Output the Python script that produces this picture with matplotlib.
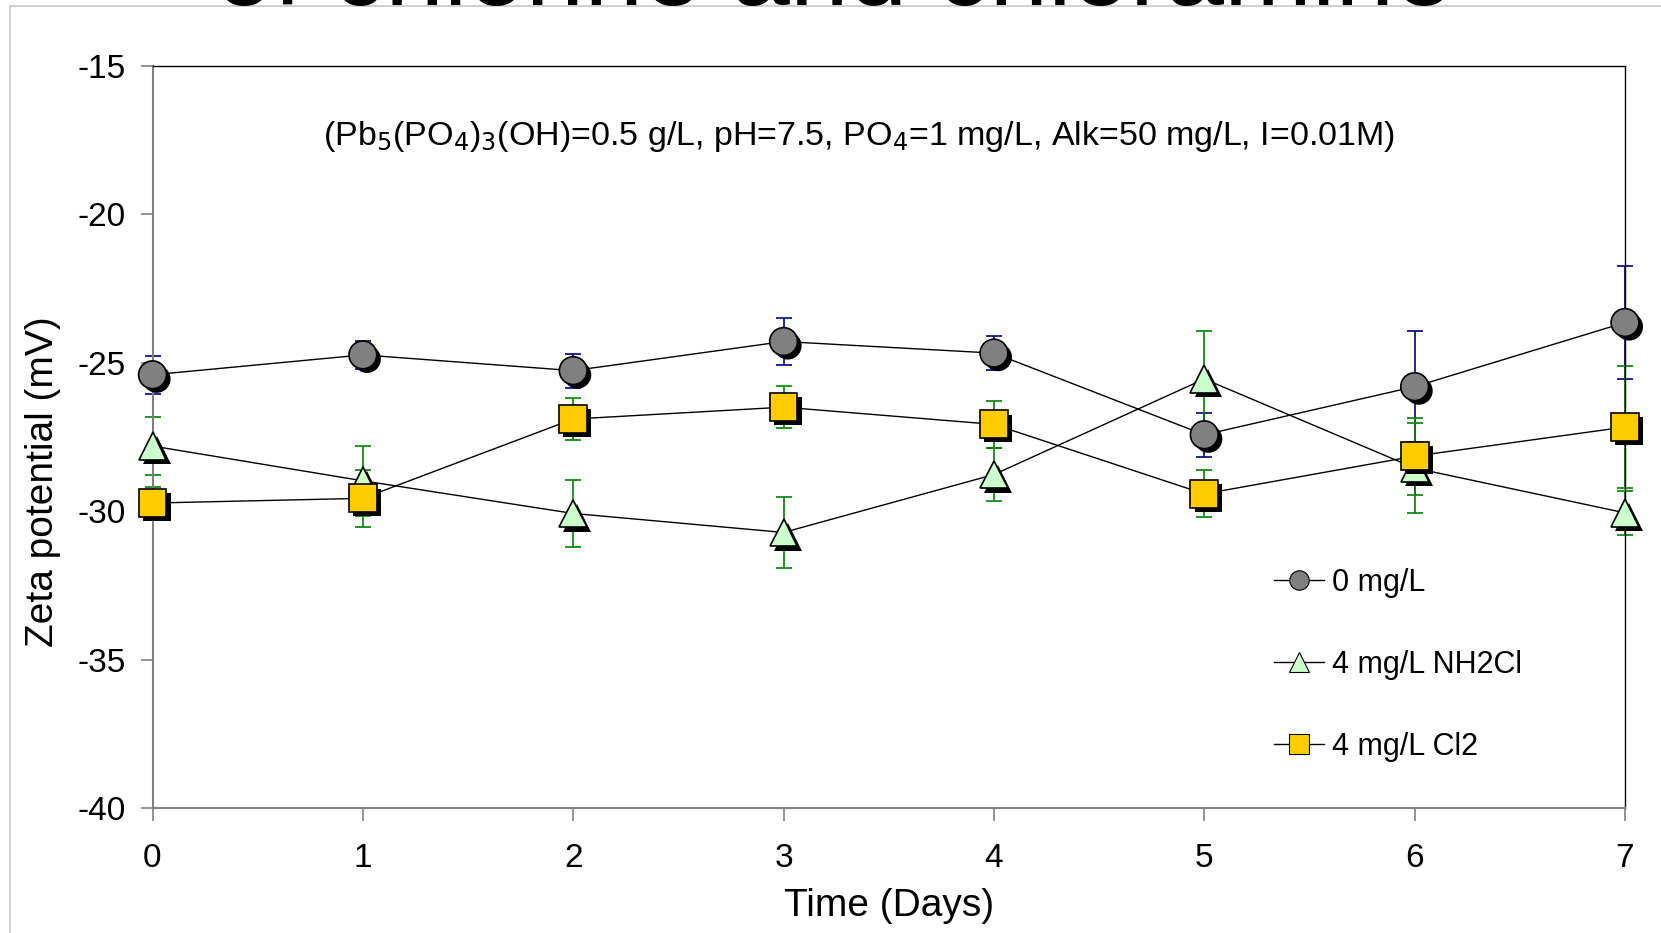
import matplotlib
matplotlib.use("Agg")
import matplotlib.pyplot as plt
import matplotlib.patheffects as pe
from matplotlib.lines import Line2D

plt.rcParams['font.family'] = ['Liberation Sans', 'DejaVu Sans']
plt.rcParams['axes.unicode_minus'] = False

# data
days = [0, 1, 2, 3, 4, 5, 6, 7]

zeta_0 = [-25.41, -24.74, -25.27, -24.29, -24.68, -27.43, -25.81, -23.65]
err_0 = [0.64, 0.48, 0.57, 0.80, 0.56, 0.75, 1.87, 1.90]

zeta_nh2cl = [-27.81, -28.98, -30.08, -30.72, -28.77, -25.55, -28.55, -30.06]
err_nh2cl = [0.98, 1.18, 1.13, 1.20, 0.89, 1.60, 1.53, 0.74]

zeta_cl2 = [-29.73, -29.57, -26.90, -26.50, -27.08, -29.42, -28.15, -27.17]
err_cl2 = [0.54, 0.96, 0.72, 0.70, 0.79, 0.79, 1.30, 2.05]

labels = ["0 mg/L", "4 mg/L NH2Cl", "4 mg/L Cl2"]
yticks = [-40, -35, -30, -25, -20, -15]

W, H = 1661, 933
fig = plt.figure(figsize=(W / 100, H / 100), dpi=100)
fig.patch.set_facecolor("white")

# slide frame + cut-off slide title
fig.add_artist(Line2D([10 / W, 10 / W], [0, 1 - 6 / H], color="#c8c8c8", lw=1.2,
                      transform=fig.transFigure))
fig.add_artist(Line2D([10 / W, 1], [1 - 6 / H, 1 - 6 / H], color="#c8c8c8", lw=1.2,
                      transform=fig.transFigure))
fig.text(0.502, 1 - 5 / H, "of chlorine and chloramine", ha="center", va="baseline",
         fontsize=76, color="black")

ax = fig.add_axes([152.5 / W, 1 - 808 / H, (1625 - 152.5) / W, (808 - 65.7) / H])

series = [
    (zeta_0, err_0, "o", "#808080", "#000080"),
    (zeta_nh2cl, err_nh2cl, "^", "#ccffcc", "#008000"),
    (zeta_cl2, err_cl2, "s", "#ffcc00", "#008000"),
]

shadow = [pe.SimplePatchShadow(offset=(3, -3), shadow_rgbFace="black", alpha=1.0), pe.Normal()]
handles = []
for i, (vals, errs, mk, fc, ec) in enumerate(series):
    ax.plot(days, vals, color="black", lw=1.0, zorder=2, clip_on=False)
    ax.errorbar(days, vals, yerr=errs, fmt="none", ecolor=ec, elinewidth=1.2,
                capsize=6, capthick=1.2, zorder=2, clip_on=False)
    ax.plot(days, vals, linestyle="none", marker=mk, markersize=20, markerfacecolor=fc,
            markeredgecolor="black", markeredgewidth=1.2, zorder=4 + i, clip_on=False,
            path_effects=shadow)
    handles.append(Line2D([], [], color="black", lw=1.0, marker=mk, markersize=14,
                          markerfacecolor=fc, markeredgecolor="black", markeredgewidth=0.8))

ax.set_xlim(0, 7)
ax.set_ylim(-40, -15)
ax.set_yticks(yticks)
ax.set_xticks(days)
ax.tick_params(axis="both", direction="out", length=9, width=1.2, color="#808080",
               labelsize=24)
ax.tick_params(axis="y", pad=10)
ax.tick_params(axis="x", pad=16)
for s in ["left", "bottom"]:
    ax.spines[s].set_color("#808080")
    ax.spines[s].set_linewidth(1.5)
for s in ["top", "right"]:
    ax.spines[s].set_color("black")
    ax.spines[s].set_linewidth(1.0)

ax.set_xlabel("Time (Days)", fontsize=28, labelpad=10)
ax.set_ylabel("Zeta potential (mV)", fontsize=28)
ax.yaxis.set_label_coords(-0.062, 0.439)

ax.text(3.36, -17.4,
        r"(Pb$_5$(PO$_4$)$_3$(OH)=0.5 g/L, pH=7.5, PO$_4$=1 mg/L, Alk=50 mg/L, I=0.01M)",
        ha="center", va="center", fontsize=24.5)

ax.legend(handles, labels, loc="upper left", bbox_to_anchor=(0.753, 0.34),
          frameon=False, fontsize=22, handlelength=1.65, handletextpad=0.25,
          labelspacing=1.7, borderaxespad=0)

fig.savefig("out.png", dpi=100, facecolor="white")
